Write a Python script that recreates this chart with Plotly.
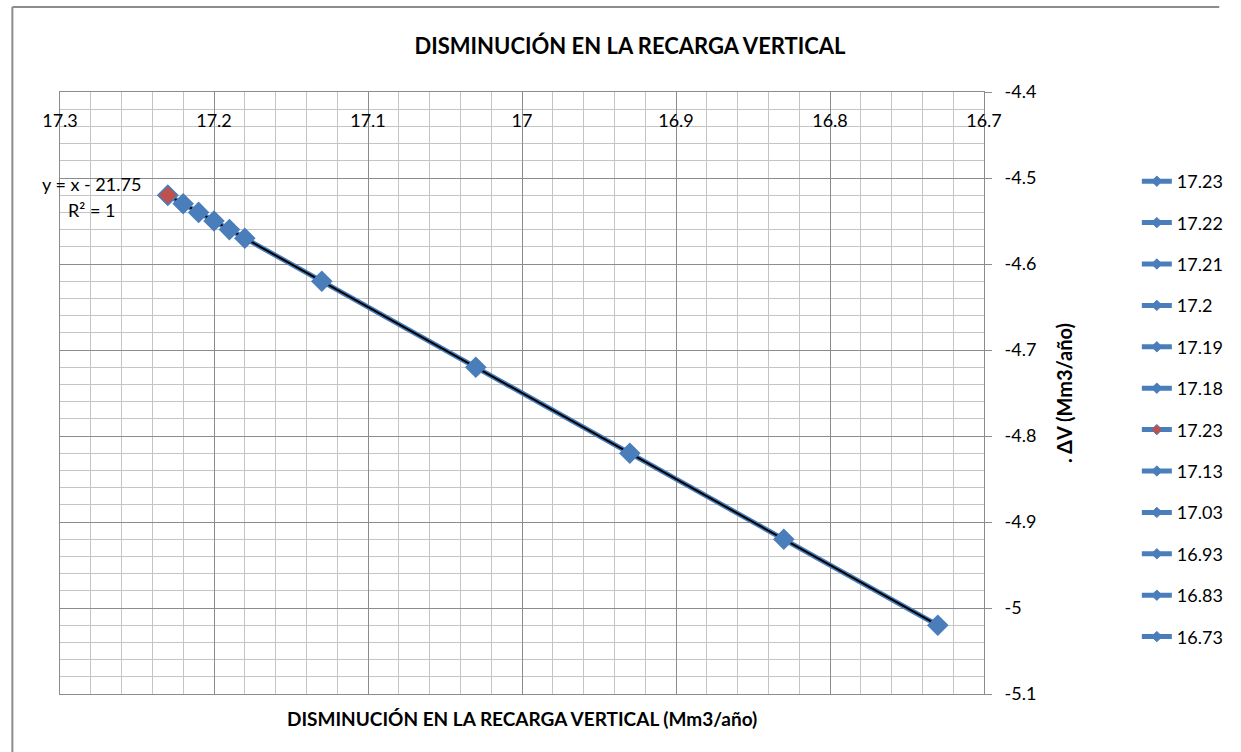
import numpy as np
import plotly.graph_objects as go

# Decrease in vertical recharge (x) vs. change in volume (y), one series per point
recarga = [17.23, 17.22, 17.21, 17.20, 17.19, 17.18, 17.23, 17.13, 17.03, 16.93, 16.83, 16.73]
delta_v = [-4.52, -4.53, -4.54, -4.55, -4.56, -4.57, -4.52, -4.62, -4.72, -4.82, -4.92, -5.02]
marker_colors = ["#4A7EBB"] * 6 + ["#C0504D"] + ["#4A7EBB"] * 5

x_ticks = [17.3, 17.2, 17.1, 17.0, 16.9, 16.8, 16.7]
x_tick_text = ["17.3", "17.2", "17.1", "17", "16.9", "16.8", "16.7"]
y_ticks = [-4.4, -4.5, -4.6, -4.7, -4.8, -4.9, -5.0, -5.1]
y_tick_text = ["-4.4", "-4.5", "-4.6", "-4.7", "-4.8", "-4.9", "-5", "-5.1"]

FONT = "Lato, 'Open Sans', sans-serif"
BLUE = "#4A7EBB"

W, H = 1241, 752
ML, MR, MT, MB = 60, 250, 92, 58
PW, PH = W - ML - MR, H - MT - MB


def px_x(p):
    return (p - ML) / PW


def px_y(p):
    return (H - MB - p) / PH


fig = go.Figure()

# connecting line through the series, drawn beneath the markers
order = sorted(set(zip(recarga, delta_v)), key=lambda t: -t[0])
fig.add_trace(go.Scatter(
    x=[t[0] for t in order], y=[t[1] for t in order], mode="lines",
    line=dict(color=BLUE, width=5), showlegend=False, hoverinfo="skip"))

# linear trendline
slope, intercept = np.polyfit(recarga, delta_v, 1)
r2 = np.corrcoef(recarga, delta_v)[0, 1] ** 2
xt = np.array([max(recarga), min(recarga)])
fig.add_trace(go.Scatter(
    x=xt, y=slope * xt + intercept, mode="lines",
    line=dict(color="black", width=2), showlegend=False, hoverinfo="skip"))

# one series per point; legend entries use a smaller marker
for i, (xv, yv, mc) in enumerate(zip(recarga, delta_v, marker_colors)):
    grp = f"g{i}"
    fig.add_trace(go.Scatter(
        x=[xv], y=[yv], mode="markers", name=f"{xv:g}",
        legendgroup=grp, showlegend=False,
        marker=dict(symbol="diamond", size=15, color=mc,
                    line=dict(color=BLUE, width=1.5))))
    fig.add_trace(go.Scatter(
        x=[None], y=[None], mode="lines+markers", name=f"{xv:g}",
        legendgroup=grp, showlegend=True,
        line=dict(color=BLUE, width=5),
        marker=dict(symbol="diamond", size=8, color=mc,
                    line=dict(color=BLUE, width=1))))

# trendline equation
sign = "-" if intercept < 0 else "+"
eq_text = f"y = {'x' if abs(slope - 1) < 1e-9 else f'{slope:g}x'} {sign} {abs(intercept):.2f}"
fig.add_annotation(x=17.2794, y=-4.507, xref="x", yref="y", showarrow=False,
                   text=eq_text, font=dict(family=FONT, size=18, color="black"))
fig.add_annotation(x=17.2794, y=-4.537, xref="x", yref="y", showarrow=False,
                   text=f"R² = {r2:.0f}", font=dict(family=FONT, size=18, color="black"))

# chart area border (top and left edges)
fig.add_shape(type="line", xref="paper", yref="paper",
              x0=px_x(12), x1=px_x(1228), y0=px_y(7), y1=px_y(7),
              line=dict(color="#8C8C8C", width=2))
fig.add_shape(type="line", xref="paper", yref="paper",
              x0=px_x(12), x1=px_x(12), y0=px_y(7), y1=px_y(760),
              line=dict(color="#8C8C8C", width=2))

fig.update_layout(
    width=W, height=H,
    margin=dict(l=ML, r=MR, t=MT, b=MB),
    paper_bgcolor="white", plot_bgcolor="white",
    font=dict(family=FONT, size=18, color="black"),
    title=dict(text="<b>DISMINUCIÓN EN LA RECARGA VERTICAL</b>",
               x=630 / W, xanchor="center",
               y=1 - 46 / H, yanchor="middle",
               font=dict(family=FONT, size=22, color="black")),
    legend=dict(x=px_x(1145), y=px_y(163), xanchor="left", yanchor="top",
                font=dict(family=FONT, size=18, color="black"),
                itemsizing="trace", tracegroupgap=15,
                bgcolor="rgba(0,0,0,0)"),
    showlegend=True,
)

fig.update_xaxes(
    range=[17.3, 16.7], side="top",
    tickvals=x_ticks, ticktext=x_tick_text,
    ticklabelposition="inside", ticklabelstandoff=23, ticklabeloverflow="allow",
    ticks="",
    tickfont=dict(family=FONT, size=18, color="black"),
    showgrid=True, gridcolor="#8C8C8C", gridwidth=1,
    minor=dict(dtick=0.02, showgrid=True, gridcolor="#C4C4C4", gridwidth=1),
    showline=True, linecolor="#8C8C8C", linewidth=1, mirror=True,
    zeroline=False,
    title=None,
)
fig.update_yaxes(
    range=[-5.1, -4.39999], side="right",
    tickvals=y_ticks, ticktext=y_tick_text,
    ticks="outside", ticklen=7, tickcolor="#8C8C8C", ticklabelstandoff=9,
    tickfont=dict(family=FONT, size=18, color="black"),
    showgrid=True, gridcolor="#8C8C8C", gridwidth=1,
    minor=dict(dtick=0.02, showgrid=True, gridcolor="#C4C4C4", gridwidth=1),
    showline=True, linecolor="#8C8C8C", linewidth=1, mirror=True,
    zeroline=False,
    title=dict(text="<b>. ΔV (Mm3/año)</b>", standoff=22,
               font=dict(family=FONT, size=20, color="black")),
)

# x-axis title below the plot area
fig.add_annotation(x=0.5, y=px_y(718), xref="paper", yref="paper",
                   showarrow=False, yanchor="middle",
                   text="<b>DISMINUCIÓN EN LA RECARGA VERTICAL (Mm3/año)</b>",
                   font=dict(family=FONT, size=19, color="black"))

fig.write_html("out.html")
